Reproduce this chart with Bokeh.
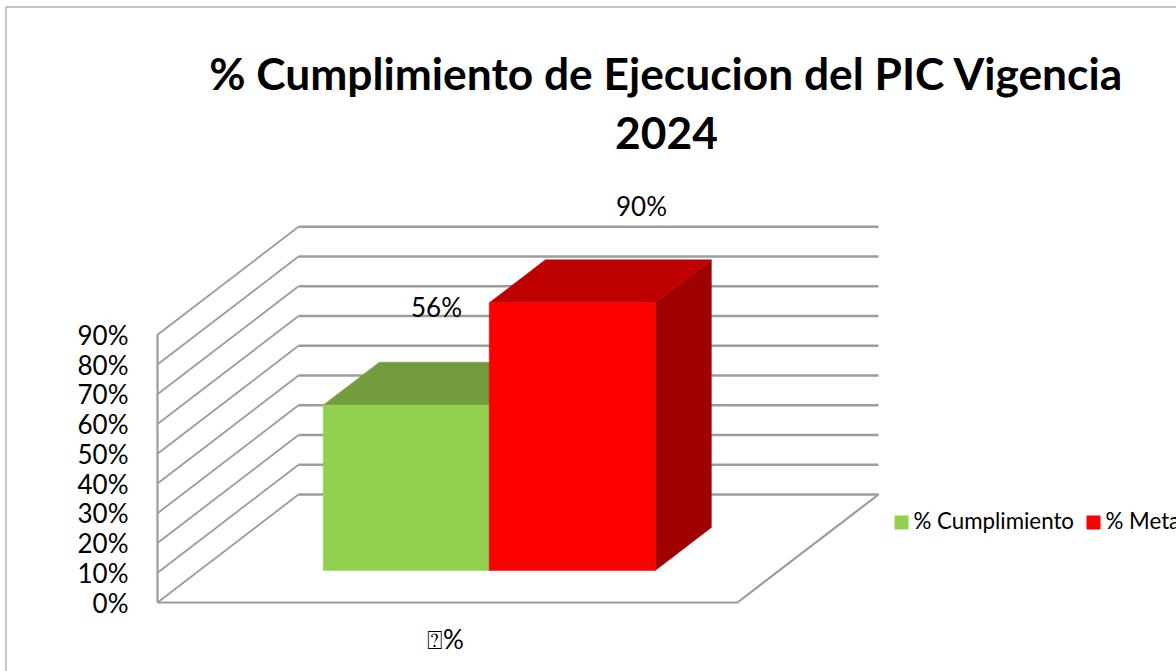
from bokeh.plotting import figure
from bokeh.models import Range1d, LinearAxis, FixedTicker, PrintfTickFormatter
from bokeh.core.properties import value
from bokeh.embed import file_html
from bokeh.resources import INLINE

# ---- data
title_lines = ["% Cumplimiento de Ejecucion del PIC Vigencia", "2024"]
category = "\u2370%"
series_names = ["% Cumplimiento", "% Meta"]
series_values = [55.6, 90.0]
series_labels = ["56%", "90%"]
axis_ticks = [0, 10, 20, 30, 40, 50, 60, 70, 80, 90]

# ---- colours
GREEN, GREEN_TOP = "#92d050", "#739c3e"
RED, RED_TOP, RED_SIDE = "#ff0000", "#bf0000", "#a00000"
GRID = "#9c9c9c"
FONT = value("Lato")

W, H = 1176, 671
PX = 2.975           # pixels per 1% on the value axis
Y0 = 602             # pixel row of 0% on the front of the floor
DX, DY = 141, 108 / PX  # shift of the oblique projection, full depth
WALL_X0, WALL_X1 = 157, 737


def val(py):
    return (Y0 - py) / PX


def pr(x, v, d):
    """Oblique projection: front x, value, depth 0..1 -> plot coordinates."""
    return x + d * DX, v + d * DY


p = figure(width=W, height=H, output_backend="svg", toolbar_location=None,
           x_range=Range1d(0, W), y_range=Range1d(val(H), val(0)),
           x_axis_type=None, y_axis_type=None, min_border=0,
           outline_line_color=None,
           styles={"position": "absolute", "left": "0px", "top": "0px"})
p.grid.visible = False
p.background_fill_color = "#ffffff"
p.border_fill_color = "#ffffff"

# chart-area border
p.line([5.5, 5.5, W], [val(H), val(6.5), val(6.5)], line_color="#b0b0b0", line_width=1.5)

# gridlines: left wall + back wall
for t in axis_ticks:
    a = pr(WALL_X0, t, 0)
    b = pr(WALL_X0, t, 1)
    c = pr(WALL_X1, t, 1)
    p.line([a[0], b[0]], [a[1], b[1]], line_color=GRID, line_width=1.8)
    p.line([b[0], c[0]], [b[1], c[1]], line_color=GRID, line_width=2.4)

# floor and vertical axis line
fl = [pr(WALL_X0, 0, 0), pr(WALL_X1, 0, 0), pr(WALL_X1, 0, 1)]
p.line([q[0] for q in fl], [q[1] for q in fl], line_color=GRID, line_width=2.2)
p.line([WALL_X0, WALL_X0], [0, axis_ticks[-1]], line_color=GRID, line_width=2.2)


# 3-D bars
def bar(x0, x1, v, front, top, side):
    d0, d1 = 0.296, 0.694
    f = [pr(x0, 0, d0), pr(x1, 0, d0), pr(x1, v, d0), pr(x0, v, d0)]
    t = [pr(x0, v, d0), pr(x1, v, d0), pr(x1, v, d1), pr(x0, v, d1)]
    s = [pr(x1, 0, d0), pr(x1, 0, d1), pr(x1, v, d1), pr(x1, v, d0)]
    for poly, col in ((s, side), (t, top), (f, front)):
        p.patch([q[0] for q in poly], [q[1] for q in poly],
                fill_color=col, line_color=col, line_width=0.5)


bar(281, 447, series_values[0], GREEN, GREEN_TOP, GREEN_TOP)
bar(447, 613, series_values[1], RED, RED_TOP, RED_SIDE)

# value axis
ax = LinearAxis(fixed_location=140, ticker=FixedTicker(ticks=axis_ticks),
                formatter=PrintfTickFormatter(format="%d%%"),
                axis_line_color=None, major_tick_line_color=None, minor_tick_line_color=None,
                major_label_text_font="Lato", major_label_text_font_size="26px",
                major_label_text_color="#000000", major_label_standoff=6)
p.add_layout(ax, "left")


def label(x, py, s, size, bold=False, align="center"):
    p.text([x], [val(py)], text=[s], text_font=FONT, text_font_size=size,
           text_font_style="bold" if bold else "normal", text_align=align,
           text_baseline="middle", text_color="#000000")


# title
label(666, 72, title_lines[0], "44.3px", True)
label(666, 132, title_lines[1], "44.3px", True)

# data labels
label(436, 306.5, series_labels[0], "26px")
label(641, 205, series_labels[1], "26px")

# category label
label(445, 638, category, "26px")

# legend
p.scatter([901], [val(522)], marker="square", size=14, fill_color=GREEN, line_color=None)
label(913, 520, series_names[0], "22.3px", align="left")
p.scatter([1093], [val(522)], marker="square", size=14, fill_color=RED, line_color=None)
label(1105, 520, series_names[1], "22.3px", align="left")

open("out.html", "w").write(file_html(p, INLINE))
